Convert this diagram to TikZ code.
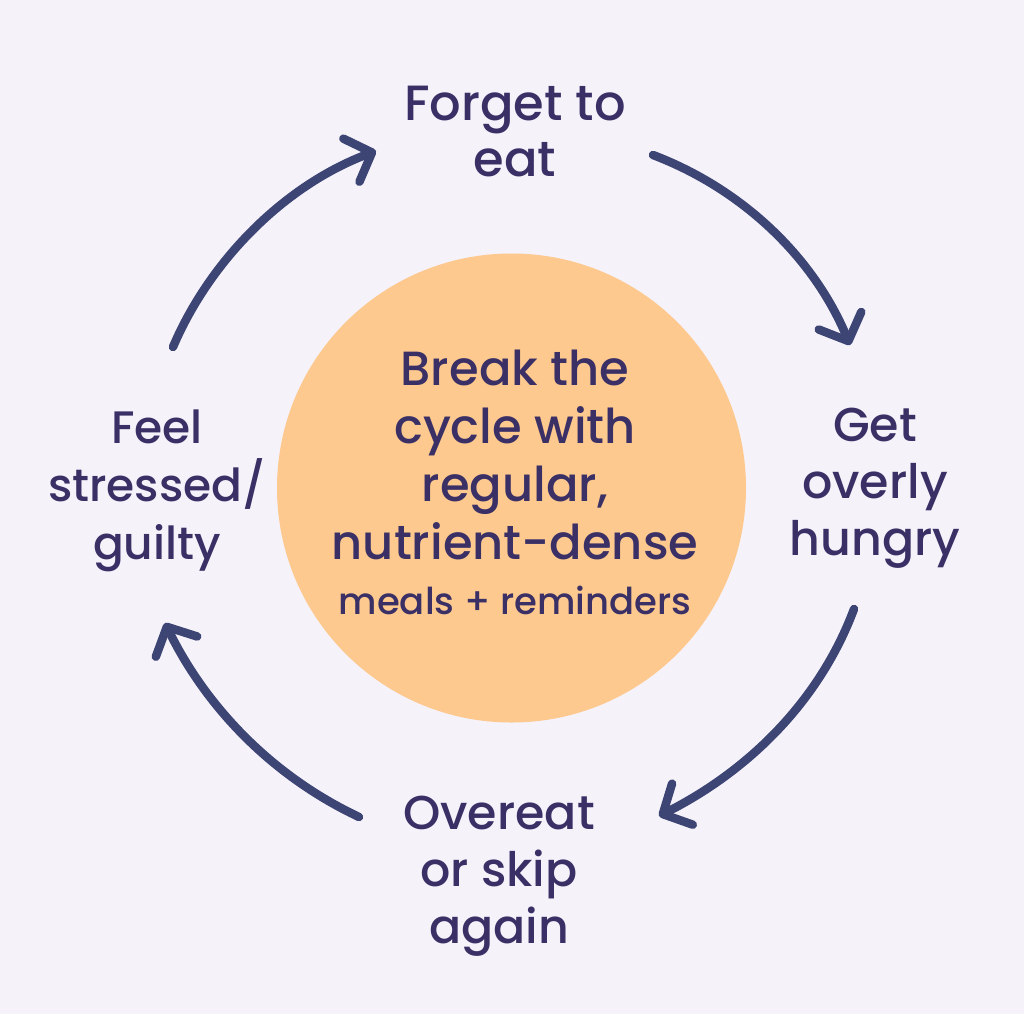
\documentclass[tikz,border=0pt]{standalone}
\usepackage{fontspec}
\setmainfont{Poppins}[UprightFont=* Medium]
\usetikzlibrary{arrows.meta}
\definecolor{bgc}{HTML}{F6F2FA}
\definecolor{txt}{HTML}{3A3066}
\definecolor{arr}{HTML}{3C4573}
\definecolor{disc}{HTML}{FDC98E}
\tikzset{
 lab/.style={text=txt,align=center,font=\fontsize{47.5}{57}\selectfont,inner sep=0pt},
 conn/.style={draw=arr,line width=8.5pt,line cap=round,-{Straight Barb[length=22pt,width=46pt,line width=8.5pt,round]}}
}
\begin{document}
\begin{tikzpicture}[x=1pt,y=-1pt]
\useasboundingbox (0,0) rectangle (1024,1014);
\fill[bgc] (0,0) rectangle (1024,1014);
\node[circle,fill=disc,minimum size=469pt,inner sep=0pt] (c) at (511.5,488) {};
\node[lab,font=\fontsize{48}{58}\selectfont] (ct) at (515,455) {Break the\\cycle with\\regular,\\nutrient-dense};
\node[lab,font=\fontsize{37}{40}\selectfont] (cb) at (515,600) {meals + reminders};
\node[lab,font=\fontsize{49.5}{56}\selectfont] (a) at (515,132) {Forget to\\eat};
\node[lab] (b) at (875,488) {Get\\overly\\hungry};
\node[lab] (d) at (499,876) {Overeat\\or skip\\again};
\node[lab,font=\fontsize{45.5}{58}\selectfont] (e) at (157,491) {Feel\\stressed/\\guilty};
\coordinate (a1) at (653,155); \coordinate (a2) at (850,345);
\coordinate (b1) at (854,609); \coordinate (b2) at (659,816);
\coordinate (d1) at (359,817); \coordinate (d2) at (165,623);
\coordinate (e1) at (173,347); \coordinate (e2) at (376,151);
\draw[conn] (a1) .. controls (745,190) and (815,260) .. (a2);
\draw[conn] (b1) .. controls (820,700) and (750,770) .. (b2);
\draw[conn] (d1) .. controls (270,775) and (205,705) .. (d2);
\draw[conn] (e1) .. controls (210,260) and (285,185) .. (e2);
\end{tikzpicture}
\end{document}
